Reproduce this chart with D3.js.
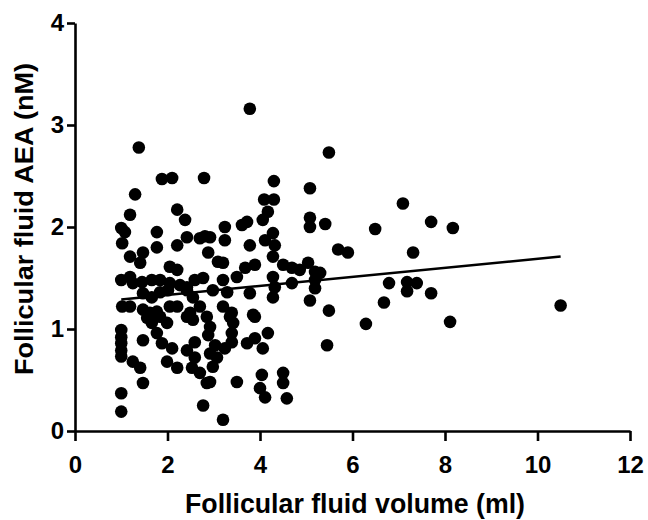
<!DOCTYPE html>
<html>
<head>
<meta charset="utf-8">
<script src="https://cdn.jsdelivr.net/npm/d3@7"></script>
<style>
  body { margin: 0; background: #fff; }
  text { font-family: Arial, "Liberation Sans", sans-serif; font-weight: bold; }
</style>
</head>
<body>
<div class="chart"></div>
<script>
// follicular fluid volume (ml) vs AEA (nM)
var volume = [1.38, 1.88, 2.10, 2.79, 1.30, 3.78, 5.49, 4.30, 5.08, 4.09,
  4.30, 4.17, 4.06, 7.09, 5.41, 6.49, 7.70, 8.17, 5.69, 5.90,
  7.31, 6.79, 7.18, 7.39, 7.18, 7.70, 6.68, 5.49, 10.5, 6.29,
  8.11, 5.45, 5.08, 5.08, 3.61, 3.72, 3.24, 3.24, 2.81, 2.92,
  3.78, 4.11, 4.28, 4.32, 4.28, 2.88, 3.09, 3.20, 3.50, 3.68,
  3.89, 4.50, 4.69, 4.86, 5.04, 5.19, 4.28, 4.32, 3.20, 2.98,
  3.29, 3.78, 4.69, 5.19, 5.19, 4.28, 5.08, 2.70, 3.20, 3.39,
  3.85, 1.00, 1.08, 1.02, 1.19, 1.19, 1.47, 1.41, 1.77, 1.77,
  2.05, 2.21, 2.21, 2.38, 2.42, 2.21, 2.70, 1.00, 1.19, 1.25,
  1.45, 1.66, 1.84, 2.05, 2.27, 2.42, 2.59, 2.77, 1.02, 1.19,
  1.47, 1.62, 1.77, 2.05, 2.21, 2.49, 1.47, 1.66, 1.84, 2.01,
  2.42, 2.55, 1.56, 1.66, 1.84, 1.99, 1.77, 1.47, 1.88, 2.10,
  1.25, 1.41, 1.47, 1.99, 2.21, 2.42, 2.59, 2.59, 2.53, 2.70,
  2.85, 2.77, 2.42, 2.55, 1.00, 1.00, 1.00, 1.00, 1.00, 1.00,
  1.00, 2.85, 2.92, 2.88, 3.35, 3.42, 3.89, 3.39, 3.39, 3.24,
  3.03, 2.92, 3.07, 2.98, 2.92, 3.50, 3.72, 3.89, 4.17, 4.06,
  4.04, 4.00, 4.11, 4.50, 4.50, 4.58, 3.20, 5.30];
var aea = [2.78, 2.47, 2.48, 2.48, 2.32, 3.16, 2.73, 2.45, 2.38, 2.27,
  2.27, 2.15, 2.07, 2.23, 2.03, 1.98, 2.05, 1.99, 1.78, 1.75,
  1.75, 1.45, 1.46, 1.45, 1.37, 1.35, 1.26, 1.18, 1.23, 1.05,
  1.07, 0.84, 2.09, 2.00, 2.02, 2.05, 2.00, 1.87, 1.91, 1.90,
  1.82, 1.87, 1.94, 1.82, 1.71, 1.75, 1.66, 1.65, 1.51, 1.60,
  1.63, 1.63, 1.60, 1.58, 1.65, 1.56, 1.51, 1.41, 1.48, 1.38,
  1.36, 1.35, 1.45, 1.48, 1.40, 1.31, 1.28, 1.22, 1.22, 1.16,
  1.14, 1.99, 1.95, 1.84, 2.12, 1.71, 1.75, 1.65, 1.95, 1.80,
  1.61, 1.58, 2.17, 2.07, 1.90, 1.82, 1.89, 1.48, 1.51, 1.45,
  1.46, 1.48, 1.48, 1.45, 1.43, 1.41, 1.48, 1.50, 1.22, 1.22,
  1.19, 1.16, 1.17, 1.22, 1.22, 1.16, 1.35, 1.31, 1.36, 1.38,
  1.38, 1.31, 1.11, 1.06, 1.12, 1.06, 0.96, 0.89, 0.86, 0.81,
  0.68, 0.62, 0.47, 0.68, 0.62, 0.79, 0.87, 0.72, 0.62, 0.57,
  0.47, 0.25, 1.12, 1.09, 0.99, 0.92, 0.86, 0.79, 0.73, 0.37,
  0.19, 1.12, 1.02, 0.94, 1.12, 1.06, 1.12, 0.96, 0.87, 0.81,
  0.84, 0.76, 0.72, 0.63, 0.48, 0.48, 0.86, 0.91, 0.96, 0.81,
  0.55, 0.42, 0.33, 0.57, 0.47, 0.32, 0.11, 1.55];

// regression line end points
var fitX = [1, 10.5];
var fitY = [1.29, 1.71];

var xTicks = [0, 2, 4, 6, 8, 10, 12];
var yTicks = [0, 1, 2, 3, 4];

var margin = { top: 23, right: 18, bottom: 89, left: 75 };
var width = 648 - margin.left - margin.right;
var height = 520 - margin.top - margin.bottom;

var svg = d3.select('.chart')
  .append('svg')
    .attr('width', 648)
    .attr('height', 520)
  .append('g')
    .attr('transform', `translate(${margin.left}, ${margin.top})`);

var xScale = d3.scaleLinear().domain([0, 12]).range([0, width]);
var yScale = d3.scaleLinear().domain([0, 4]).range([height, 0]);

var xAxis = d3.axisBottom(xScale)
  .tickValues(xTicks)
  .tickFormat(d3.format('d'))
  .tickSizeInner(10)
  .tickSizeOuter(0)
  .tickPadding(15);

var yAxis = d3.axisLeft(yScale)
  .tickValues(yTicks)
  .tickFormat(d3.format('d'))
  .tickSizeInner(8)
  .tickSizeOuter(0)
  .tickPadding(3);

var gx = svg.append('g')
  .attr('transform', `translate(0, ${height})`)
  .call(xAxis);

var gy = svg.append('g').call(yAxis);

[gx, gy].forEach(function (g) {
  g.selectAll('path, line').attr('stroke', '#000').attr('stroke-width', 2.6);
  g.selectAll('text').attr('fill', '#000').style('font-size', '24px');
});

// dots
var pts = d3.zip(volume, aea);
svg.append('g')
  .selectAll('circle')
  .data(pts)
  .join('circle')
    .attr('cx', d => xScale(d[0]))
    .attr('cy', d => yScale(d[1]))
    .attr('r', 6.3)
    .attr('fill', '#000');

// fit line
svg.append('path')
  .datum(d3.zip(fitX, fitY))
  .attr('fill', 'none')
  .attr('stroke', '#000')
  .attr('stroke-width', 2.6)
  .attr('d', d3.line().x(d => xScale(d[0])).y(d => yScale(d[1])));

// axis titles
svg.append('text')
  .attr('x', 355 - margin.left)
  .attr('y', 513 - margin.top)
  .attr('text-anchor', 'middle')
  .attr('textLength', 340)
  .attr('lengthAdjust', 'spacingAndGlyphs')
  .style('font-size', '27px')
  .text('Follicular fluid volume (ml)');

svg.append('text')
  .attr('transform', `translate(${33 - margin.left}, ${219 - margin.top}) rotate(-90)`)
  .attr('text-anchor', 'middle')
  .attr('textLength', 312)
  .attr('lengthAdjust', 'spacingAndGlyphs')
  .style('font-size', '26px')
  .text('Follicular fluid AEA (nM)');
</script>
</body>
</html>
